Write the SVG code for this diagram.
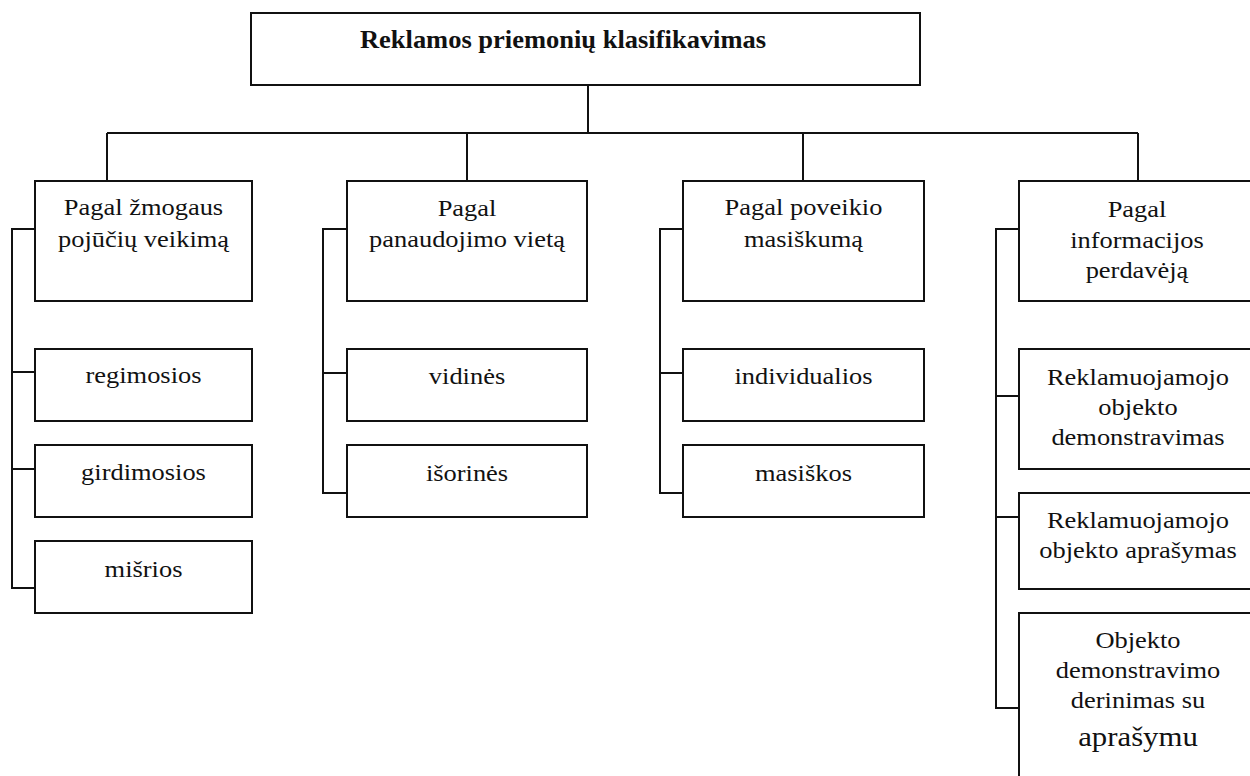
<svg xmlns="http://www.w3.org/2000/svg" width="1250" height="776" viewBox="0 0 1250 776">
  <style>
    .box { fill: #ffffff; stroke: #111111; stroke-width: 2; }
    .wire { fill: none; stroke: #111111; stroke-width: 2; }
    .lbl { font-family: "Liberation Serif", "Times New Roman", serif; font-size: 23px; fill: #111111; text-anchor: middle; }
    .title { font-family: "Liberation Serif", "Times New Roman", serif; font-size: 25px; font-weight: bold; fill: #111111; text-anchor: middle; }
    .big { font-size: 28px; }
  </style>
  <rect width="1250" height="776" fill="#ffffff"/>

  <!-- tree connectors -->
  <g id="connectors" class="wire">
    <path d="M588 85 V133"/>
    <path d="M107 133 H1138"/>
    <path d="M107 133 V181 M467 133 V181 M803 133 V181 M1138 133 V181"/>
    <!-- column 1 -->
    <path d="M35 229 H12 V588 H35 M12 372 H35 M12 469 H35"/>
    <!-- column 2 -->
    <path d="M347 229 H323 V493 H347 M323 373 H347"/>
    <!-- column 3 -->
    <path d="M683 229 H660 V493 H683 M660 373 H683"/>
    <!-- column 4 -->
    <path d="M1019 229 H996 V708 H1019 M996 396 H1019 M996 517 H1019"/>
  </g>

  <g id="root">
    <rect class="box" x="251" y="13" width="669" height="72"/>
    <text class="title" transform="translate(563,48) scale(1.06,1)">Reklamos priemonių klasifikavimas</text>
  </g>

  <!-- column 1 -->
  <g id="c1-head">
    <rect class="box" x="35" y="181" width="217" height="120"/>
    <text class="lbl" transform="translate(143.5,215) scale(1.15,1)"><tspan x="0">Pagal žmogaus</tspan><tspan x="0" dy="32">pojūčių veikimą</tspan></text>
  </g>
  <g id="c1-regimosios">
    <rect class="box" x="35" y="349" width="217" height="72"/>
    <text class="lbl" transform="translate(143.5,383) scale(1.15,1)">regimosios</text>
  </g>
  <g id="c1-girdimosios">
    <rect class="box" x="35" y="445" width="217" height="72"/>
    <text class="lbl" transform="translate(143.5,480) scale(1.15,1)">girdimosios</text>
  </g>
  <g id="c1-misrios">
    <rect class="box" x="35" y="541" width="217" height="72"/>
    <text class="lbl" transform="translate(143.5,577) scale(1.15,1)">mišrios</text>
  </g>

  <!-- column 2 -->
  <g id="c2-head">
    <rect class="box" x="347" y="181" width="240" height="120"/>
    <text class="lbl" transform="translate(467,216) scale(1.15,1)"><tspan x="0">Pagal</tspan><tspan x="0" dy="31">panaudojimo vietą</tspan></text>
  </g>
  <g id="c2-vidines">
    <rect class="box" x="347" y="349" width="240" height="72"/>
    <text class="lbl" transform="translate(467,384) scale(1.15,1)">vidinės</text>
  </g>
  <g id="c2-isorines">
    <rect class="box" x="347" y="445" width="240" height="72"/>
    <text class="lbl" transform="translate(467,481) scale(1.15,1)">išorinės</text>
  </g>

  <!-- column 3 -->
  <g id="c3-head">
    <rect class="box" x="683" y="181" width="241" height="120"/>
    <text class="lbl" transform="translate(803.5,215) scale(1.15,1)"><tspan x="0">Pagal poveikio</tspan><tspan x="0" dy="32">masiškumą</tspan></text>
  </g>
  <g id="c3-individualios">
    <rect class="box" x="683" y="349" width="241" height="72"/>
    <text class="lbl" transform="translate(803.5,384) scale(1.15,1)">individualios</text>
  </g>
  <g id="c3-masiskos">
    <rect class="box" x="683" y="445" width="241" height="72"/>
    <text class="lbl" transform="translate(803.5,481) scale(1.15,1)">masiškos</text>
  </g>

  <!-- column 4 (runs past the right edge) -->
  <g id="c4-head">
    <rect class="box" x="1019" y="181" width="240" height="120"/>
    <text class="lbl" transform="translate(1137,217) scale(1.15,1)"><tspan x="0">Pagal</tspan><tspan x="0" dy="31">informacijos</tspan><tspan x="0" dy="30">perdavėją</tspan></text>
  </g>
  <g id="c4-demonstravimas">
    <rect class="box" x="1019" y="349" width="240" height="120"/>
    <text class="lbl" transform="translate(1138,385) scale(1.15,1)"><tspan x="0">Reklamuojamojo</tspan><tspan x="0" dy="30">objekto</tspan><tspan x="0" dy="30">demonstravimas</tspan></text>
  </g>
  <g id="c4-aprasymas">
    <rect class="box" x="1019" y="493" width="240" height="96"/>
    <text class="lbl" transform="translate(1138,528) scale(1.15,1)"><tspan x="0">Reklamuojamojo</tspan><tspan x="0" dy="30">objekto aprašymas</tspan></text>
  </g>
  <g id="c4-derinimas">
    <rect class="box" x="1019" y="613" width="240" height="180"/>
    <text class="lbl" transform="translate(1138,648) scale(1.15,1)"><tspan x="0">Objekto</tspan><tspan x="0" dy="30">demonstravimo</tspan><tspan x="0" dy="30">derinimas su</tspan></text>
    <text class="lbl big" transform="translate(1138,746) scale(1.1,1)">aprašymu</text>
  </g>
</svg>
